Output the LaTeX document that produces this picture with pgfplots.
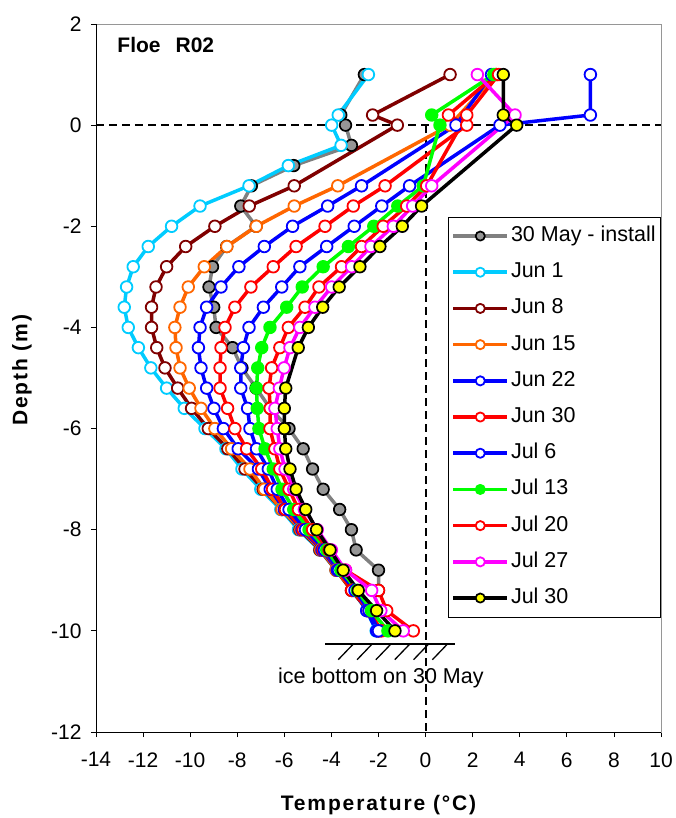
\documentclass[border=0pt]{standalone}
\usepackage{fontspec}
\setmainfont{Liberation Sans}
\newfontfamily\labelfont[LetterSpace=9]{Liberation Sans}
\usepackage{pgfplots}
\pgfplotsset{compat=1.18}
\definecolor{cyanx}{RGB}{0,204,255}
\definecolor{brownx}{RGB}{128,0,0}
\definecolor{orangex}{RGB}{255,102,0}
\definecolor{greenx}{RGB}{0,255,0}
\definecolor{magentax}{RGB}{255,0,255}
\definecolor{yellowx}{RGB}{255,255,0}
\definecolor{bluex}{RGB}{0,0,255}
\definecolor{redx}{RGB}{255,0,0}
\definecolor{grayline}{RGB}{128,128,128}
\definecolor{grayfill}{RGB}{150,150,150}
\definecolor{framegray}{RGB}{150,150,150}
\pgfplotsset{
  openmark/.style={color=#1, mark=*, mark options={fill=white, draw=#1, line width=1.8pt, solid}},
}
\begin{document}
\begin{tikzpicture}
\begin{axis}[
  width=565pt, height=708pt, scale only axis,
  xmin=-14, xmax=10, ymin=-12, ymax=2,
  xtick={-14,-12,...,10}, ytick={-12,-10,...,2},
  xtick pos=lower, ytick pos=left,
  tick align=outside, major tick length=5pt,
  tick style={black, line width=0.8pt},
  axis line style={draw=framegray, line width=0.8pt},
  ticklabel style={font=\fontsize{21}{24}\selectfont},
  /pgf/number format/assume math mode=true,
  xticklabel style={yshift=-12pt},
  yticklabel style={xshift=-6pt},
  clip=false,
  every axis plot/.append style={line width=3.5pt, mark size=5.8pt, line join=round},
  legend style={at={(1,0.7279)}, anchor=north east, draw=black, line width=0.8pt,
    font=\fontsize{21.5}{24}\selectfont, inner xsep=3pt, inner ysep=6pt,
    row sep=10.2pt,
    nodes={inner xsep=2pt, inner ysep=3pt, text height=15.5pt, text depth=4.5pt}},
  legend cell align=left,
  legend image code/.code={\draw[mark repeat=2, mark phase=2, mark size=4.6pt] plot coordinates {(0pt,0pt) (27pt,0pt) (54pt,0pt)};},
]
% reference dashed lines
\draw[black, line width=1.9pt, dash pattern=on 8pt off 5pt] (axis cs:-14,0) -- (axis cs:10,0);
\draw[black, line width=1.9pt, dash pattern=on 8pt off 5pt] (axis cs:0,0) -- (axis cs:0,-12);

% 30 May - install
\addplot[color=grayline, mark=*, mark options={fill=grayfill, draw=black, line width=1.7pt}] coordinates {
(-2.6,1.0) (-3.6,0.2) (-3.4,0) (-3.15,-0.4) (-5.6,-0.8) (-7.4,-1.2) (-7.85,-1.6) (-7.2,-2.0) (-8.45,-2.4) (-9.05,-2.8) (-9.2,-3.2) (-9.0,-3.6) (-8.9,-4.0) (-8.2,-4.4) (-7.8,-4.8) (-7.2,-5.2) (-6.6,-5.6) (-5.8,-6.0) (-5.2,-6.4) (-4.8,-6.8) (-4.35,-7.2) (-3.65,-7.6) (-3.15,-8.0) (-2.95,-8.4) (-2.0,-8.8) (-2.0,-9.2)};
\addlegendentry{30 May - install}
% Jun 1
\addplot[openmark=cyanx] coordinates {
(-2.43,1.0) (-3.71,0.2) (-3.99,0) (-3.59,-0.4) (-5.83,-0.8) (-7.5,-1.2) (-9.58,-1.6) (-10.79,-2.0) (-11.78,-2.4) (-12.42,-2.8) (-12.7,-3.2) (-12.8,-3.6) (-12.63,-4.0) (-12.2,-4.4) (-11.67,-4.8) (-11.0,-5.2) (-10.25,-5.6) (-9.37,-6.0) (-8.48,-6.4) (-7.8,-6.8) (-7.0,-7.2) (-6.15,-7.6) (-5.4,-8.0) (-4.5,-8.4) (-3.8,-8.8) (-3.1,-9.2) (-2.5,-9.6) (-2.1,-10.0)};
\addlegendentry{Jun 1}
% Jun 8
\addplot[openmark=brownx] coordinates {
(1.04,1.0) (-2.25,0.2) (-1.2,0) (-5.58,-1.2) (-7.49,-1.6) (-8.95,-2.0) (-10.19,-2.4) (-11.0,-2.8) (-11.45,-3.2) (-11.64,-3.6) (-11.64,-4.0) (-11.42,-4.4) (-11.07,-4.8) (-10.53,-5.2) (-9.94,-5.6) (-9.23,-6.0) (-8.4,-6.4) (-7.67,-6.8) (-6.9,-7.2) (-6.1,-7.6) (-5.34,-8.0) (-4.49,-8.4) (-3.8,-8.8) (-3.15,-9.2) (-2.45,-9.6) (-2.0,-10.0)};
\addlegendentry{Jun 8}
% Jun 15
\addplot[openmark=orangex] coordinates {
(3.0,1.0) (1.04,0) (-3.73,-1.2) (-5.58,-1.6) (-7.19,-2.0) (-8.44,-2.4) (-9.4,-2.8) (-10.08,-3.2) (-10.43,-3.6) (-10.65,-4.0) (-10.6,-4.4) (-10.43,-4.8) (-10.04,-5.2) (-9.54,-5.6) (-8.95,-6.0) (-8.24,-6.4) (-7.46,-6.8) (-6.85,-7.2) (-6.1,-7.6) (-5.3,-8.0) (-4.45,-8.4) (-3.8,-8.8) (-3.1,-9.2) (-2.45,-9.6) (-2.0,-10.0)};
\addlegendentry{Jun 15}
% Jun 22
\addplot[openmark=bluex] coordinates {
(2.8,1.0) (1.29,0) (-2.72,-1.2) (-4.16,-1.6) (-5.65,-2.0) (-6.85,-2.4) (-7.93,-2.8) (-8.69,-3.2) (-9.3,-3.6) (-9.58,-4.0) (-9.65,-4.4) (-9.54,-4.8) (-9.3,-5.2) (-8.99,-5.6) (-8.59,-6.0) (-7.96,-6.4) (-7.1,-6.8) (-6.6,-7.2) (-6.0,-7.6) (-5.25,-8.0) (-4.4,-8.4) (-3.75,-8.8) (-3.05,-9.2) (-2.5,-9.6) (-2.08,-10.0)};
\addlegendentry{Jun 22}
% Jun 30
\addplot[openmark=redx] coordinates {
(3.0,1.0) (0.97,0.2) (1.75,0) (-1.72,-1.2) (-3.07,-1.6) (-4.27,-2.0) (-5.5,-2.4) (-6.47,-2.8) (-7.42,-3.2) (-8.1,-3.6) (-8.52,-4.0) (-8.69,-4.4) (-8.73,-4.8) (-8.73,-5.2) (-8.41,-5.6) (-8.1,-6.0) (-7.6,-6.4) (-6.96,-6.8) (-6.5,-7.2) (-5.95,-7.6) (-5.2,-8.0) (-4.35,-8.4) (-3.7,-8.8) (-3.14,-9.2) (-2.4,-9.6) (-1.87,-10.0)};
\addlegendentry{Jun 30}
% Jul 6
\addplot[openmark=bluex] coordinates {
(7.0,1.0) (7.0,0.2) (3.16,0) (-0.68,-1.2) (-1.86,-1.6) (-3.03,-2.0) (-4.2,-2.4) (-5.34,-2.8) (-6.11,-3.2) (-6.89,-3.6) (-7.5,-4.0) (-7.74,-4.4) (-7.85,-4.8) (-7.85,-5.2) (-7.56,-5.6) (-7.46,-6.0) (-7.18,-6.4) (-6.68,-6.8) (-6.3,-7.2) (-5.8,-7.6) (-5.1,-8.0) (-4.3,-8.4) (-3.7,-8.8) (-3.0,-9.2) (-2.4,-9.6) (-2.0,-10.0)};
\addlegendentry{Jul 6}
% Jul 13
\addplot[color=greenx, mark=*, mark options={fill=greenx, draw=greenx, line width=1.8pt}] coordinates {
(2.9,1.0) (0.26,0.2) (0.61,0) (-0.1,-1.2) (-1.18,-1.6) (-2.2,-2.0) (-3.28,-2.4) (-4.35,-2.8) (-5.24,-3.2) (-5.9,-3.6) (-6.61,-4.0) (-6.96,-4.4) (-7.13,-4.8) (-7.18,-5.2) (-7.15,-5.6) (-7.08,-6.0) (-6.82,-6.4) (-6.47,-6.8) (-6.1,-7.2) (-5.6,-7.6) (-4.95,-8.0) (-4.2,-8.4) (-3.6,-8.8) (-2.9,-9.2) (-2.3,-9.6) (-1.6,-10.0)};
\addlegendentry{Jul 13}
% Jul 20
\addplot[openmark=redx] coordinates {
(3.1,1.0) (1.75,0.2) (0.05,-1.2) (-0.8,-1.6) (-1.8,-2.0) (-2.72,-2.4) (-3.57,-2.8) (-4.53,-3.2) (-5.12,-3.6) (-5.83,-4.0) (-6.19,-4.4) (-6.54,-4.8) (-6.65,-5.2) (-6.6,-5.6) (-6.61,-6.0) (-6.4,-6.4) (-6.19,-6.8) (-5.8,-7.2) (-5.4,-7.6) (-4.8,-8.0) (-4.1,-8.4) (-3.4,-8.8) (-2.0,-9.2) (-1.65,-9.6) (-0.52,-10.0)};
\addlegendentry{Jul 20}
% Jul 27
\addplot[openmark=magentax] coordinates {
(2.2,1.0) (3.8,0.2) (0.26,-1.2) (-0.55,-1.6) (-1.37,-2.0) (-2.32,-2.4) (-3.14,-2.8) (-3.99,-3.2) (-4.7,-3.6) (-5.34,-4.0) (-5.76,-4.4) (-6.01,-4.8) (-6.21,-5.2) (-6.4,-5.6) (-6.3,-6.0) (-6.19,-6.4) (-5.97,-6.8) (-5.6,-7.2) (-5.15,-7.6) (-4.6,-8.0) (-4.0,-8.4) (-3.4,-8.8) (-2.29,-9.2) (-1.9,-9.6) (-0.95,-10.0)};
\addlegendentry{Jul 27}
% Jul 30
\addplot[color=black, mark=*, mark options={fill=yellowx, draw=black, line width=1.7pt}] coordinates {
(3.3,1.0) (3.3,0.2) (3.87,0) (-0.17,-1.6) (-0.99,-2.0) (-1.94,-2.4) (-2.79,-2.8) (-3.67,-3.2) (-4.37,-3.6) (-4.98,-4.0) (-5.41,-4.4) (-5.94,-5.2) (-6.0,-5.6) (-6.0,-6.0) (-5.94,-6.4) (-5.76,-6.8) (-5.5,-7.2) (-5.09,-7.6) (-4.63,-8.0) (-4.06,-8.4) (-3.5,-8.8) (-2.86,-9.2) (-2.08,-9.6) (-1.3,-10.0)};
\addlegendentry{Jul 30}

% black left and bottom axis lines
\draw[black, line width=0.8pt] (rel axis cs:0,1) -- (rel axis cs:0,0) -- (rel axis cs:1,0);

% ice bottom annotation
\draw[black, line width=1.8pt] (axis cs:-4.27,-10.26) -- (axis cs:1.25,-10.26);
\draw[black, line width=1.3pt] (axis cs:-3.71,-10.57) -- (axis cs:-3.07,-10.26);
\draw[black, line width=1.3pt] (axis cs:-2.91,-10.57) -- (axis cs:-2.27,-10.26);
\draw[black, line width=1.3pt] (axis cs:-2.11,-10.57) -- (axis cs:-1.47,-10.26);
\draw[black, line width=1.3pt] (axis cs:-1.31,-10.57) -- (axis cs:-0.67,-10.26);
\draw[black, line width=1.3pt] (axis cs:-0.51,-10.57) -- (axis cs:0.13,-10.26);
\draw[black, line width=1.3pt] (axis cs:0.29,-10.57) -- (axis cs:0.93,-10.26);
\node[font=\fontsize{21.5}{24}\selectfont, anchor=center] at (axis cs:-1.9,-10.93) {ice bottom on 30 May};
\node[font=\bfseries\fontsize{21}{24}\selectfont, anchor=base west] at (axis cs:-13.24,1.43) {Floe\hspace{15pt}R02};

% axis titles
\node[font=\labelfont\bfseries\fontsize{21}{24}\selectfont, anchor=center] at ([yshift=-73pt]rel axis cs:0.5,0) {Temperature (°C)};
\node[font=\labelfont\bfseries\fontsize{21}{24}\selectfont, anchor=center, rotate=90] at ([xshift=-74pt]rel axis cs:0,0.511) {Depth (m)};
\end{axis}
\pgfresetboundingbox
\path[use as bounding box] ([shift={(-96pt,-86pt)}]current axis.south west) rectangle ([shift={(14pt,24pt)}]current axis.north east);
\end{tikzpicture}
\end{document}
